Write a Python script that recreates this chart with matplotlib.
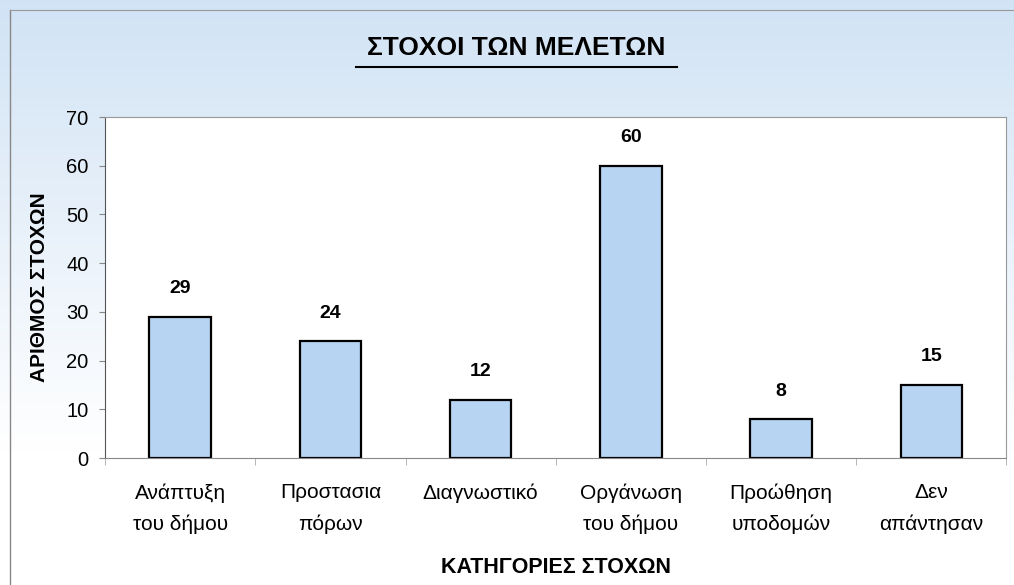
import numpy as np
import matplotlib.pyplot as plt
from matplotlib.lines import Line2D

categories = ["Ανάπτυξη\nτου δήμου", "Προστασια\nπόρων", "Διαγνωστικό",
              "Οργάνωση\nτου δήμου", "Προώθηση\nυποδομών", "Δεν\nαπάντησαν"]
values = [29, 24, 12, 60, 8, 15]
yticks = [0, 10, 20, 30, 40, 50, 60, 70]

plt.rcParams['font.family'] = ['Liberation Sans', 'DejaVu Sans']

fig = plt.figure(figsize=(10.14, 5.85), dpi=100)

# background gradient: light blue at top fading to white
bg = fig.add_axes([0, 0, 1, 1], zorder=-10)
grad = np.linspace(0, 1, 256).reshape(-1, 1)
top = np.array([0.82, 0.89, 0.96])
bot = np.array([1.0, 1.0, 1.0])
w = np.clip(grad * 1.3, 0, 1)
img = top * (1 - w[..., None]) + bot * w[..., None]
bg.imshow(img, aspect='auto', extent=[0, 1, 0, 1])
bg.set_axis_off()
fig.add_artist(Line2D([0.01, 0.01], [0, 0.983], color='#888888', lw=1))
fig.add_artist(Line2D([0.01, 1.0], [0.983, 0.983], color='#999999', lw=0.8))

ax = fig.add_axes([0.1036, 0.217, 0.889, 0.583])
ax.set_facecolor('white')
x = np.arange(len(categories))
ax.bar(x, values, width=0.41, color='#b7d5f2', edgecolor='black', linewidth=1.6)
for xi, v in zip(x, values):
    ax.text(xi, v + 4, str(v), ha='center', va='bottom', fontsize=14, fontweight='bold')

ax.set_xlim(-0.5, len(categories) - 0.5)
ax.set_ylim(0, 70)
ax.set_yticks(yticks)
ax.tick_params(axis='y', labelsize=14.5, length=4, color='#888888', pad=8)
ax.set_xticks(x)
ax.set_xticklabels(categories, fontsize=15, linespacing=1.8)
ax.tick_params(axis='x', length=0, pad=18)
ax.set_xticks(np.arange(len(categories) + 1) - 0.5, minor=True)
ax.tick_params(axis='x', which='minor', length=5, color='#aaaaaa')
for s in ['top', 'right']:
    ax.spines[s].set_color('#999999')
ax.spines['bottom'].set_color('#888888')
ax.spines['left'].set_color('#555555')

ax.set_ylabel("ΑΡΙΘΜΟΣ ΣΤΟΧΩΝ", fontsize=15, fontweight='bold', labelpad=12)
ax.set_xlabel("ΚΑΤΗΓΟΡΙΕΣ ΣΤΟΧΩΝ", fontsize=15.5, fontweight='bold', labelpad=16)

fig.text(0.509, 0.918, "ΣΤΟΧΟΙ ΤΩΝ ΜΕΛΕΤΩΝ", ha='center', va='center',
         fontsize=19, fontweight='bold',
         family=['Liberation Sans Narrow', 'Liberation Sans', 'DejaVu Sans'])
fig.add_artist(Line2D([0.351, 0.668], [0.886, 0.886], color='black', lw=1.5))

fig.savefig("out.png", dpi=100)
